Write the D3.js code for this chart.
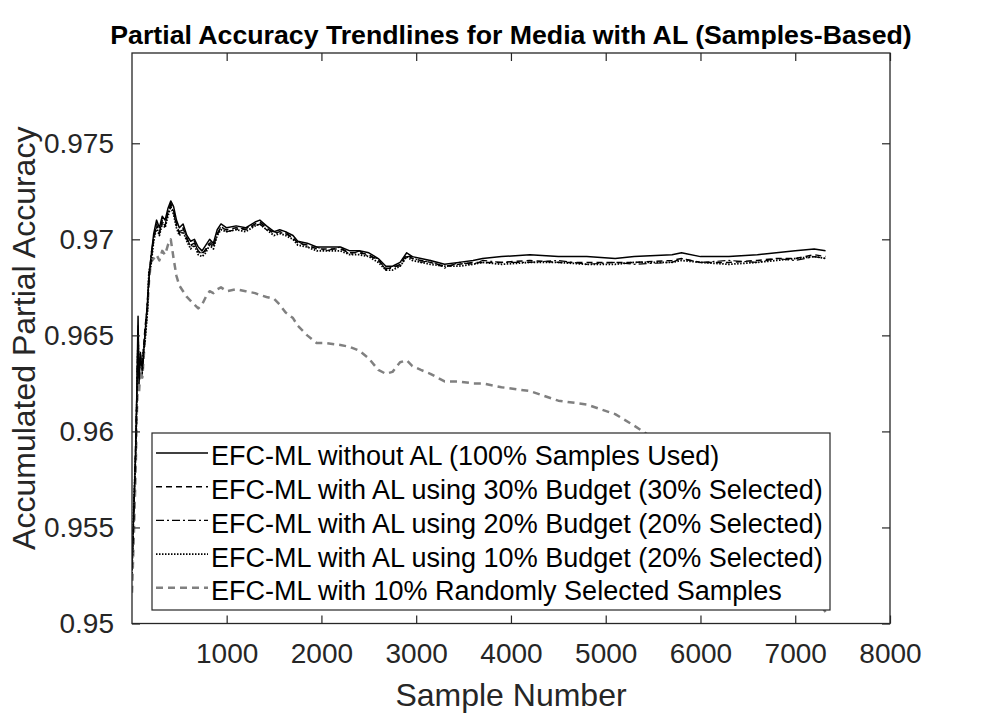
<!DOCTYPE html>
<html>
<head>
<meta charset="utf-8">
<title>Partial Accuracy Trendlines</title>
<script src="https://cdn.jsdelivr.net/npm/d3@7"></script>
<style>
    body { margin: 0; background: #fff; }
    svg { display: block; font-family: "Liberation Sans", Arial, Helvetica, sans-serif; }
</style>
</head>
<body>
<div id="chart"></div>
<script>
//************************************************************************************************************
// Data
//************************************************************************************************************
var samples = [
    1, 20, 40, 50, 65, 75, 90, 110, 140, 165,
    180, 200, 230, 260, 290, 320, 350, 380, 410, 440,
    470, 500, 540, 580, 620, 660, 700, 740, 780, 820,
    860, 900, 940, 1000, 1100, 1200, 1300, 1350, 1420, 1500,
    1560, 1620, 1700, 1750, 1850, 1950, 2050, 2200, 2300, 2400,
    2500, 2600, 2680, 2750, 2830, 2900, 2960, 3050, 3150, 3300,
    3450, 3600, 3700, 3900, 4200, 4500, 4800, 5100, 5300, 5700,
    5800, 6000, 6300, 6600, 6800, 7000, 7200, 7320
];

var noAL = [
    0.9528, 0.9560, 0.9590, 0.9615, 0.9660, 0.9625, 0.9640, 0.9632, 0.9652, 0.9668,
    0.9680, 0.9690, 0.9703, 0.9710, 0.9706, 0.9712, 0.9710, 0.9716, 0.9720, 0.9717,
    0.9710, 0.9706, 0.9708, 0.9702, 0.9699, 0.9700, 0.9696, 0.9694, 0.9697, 0.9700,
    0.9698, 0.9705, 0.9708, 0.9706, 0.9707, 0.9706, 0.9709, 0.9710, 0.9707, 0.9704,
    0.9705, 0.9704, 0.9702, 0.9699, 0.9698, 0.9696, 0.9696, 0.9696, 0.9694, 0.9694,
    0.9693, 0.9690, 0.9686, 0.9686, 0.9688, 0.9693, 0.9691, 0.9690, 0.9689, 0.9687,
    0.9688, 0.9689, 0.9690, 0.9691, 0.9692, 0.9691, 0.9691, 0.9690, 0.9691, 0.9692,
    0.9693, 0.9691, 0.9691, 0.9692, 0.9693, 0.9694, 0.9695, 0.9694
];

var al30 = [
    0.9532, 0.9555, 0.9595, 0.9612, 0.9652, 0.9630, 0.9637, 0.9635, 0.9655, 0.9665,
    0.9682, 0.9688, 0.9700, 0.9708, 0.9703, 0.9710, 0.9707, 0.9714, 0.9718, 0.9715,
    0.9708, 0.9703, 0.9706, 0.9700, 0.9697, 0.9698, 0.9694, 0.9692, 0.9695, 0.9698,
    0.9696, 0.9703, 0.9706, 0.9705, 0.9706, 0.9705, 0.9708, 0.9709, 0.9706, 0.9703,
    0.9704, 0.9703, 0.9701, 0.9698, 0.9697, 0.9695, 0.9695, 0.9695, 0.9693, 0.9693,
    0.9692, 0.9689, 0.9685, 0.9685, 0.9687, 0.9692, 0.9690, 0.9689, 0.9688, 0.9686,
    0.9687, 0.9688, 0.9688, 0.9688, 0.9689, 0.9688, 0.9688, 0.9688, 0.9688, 0.9689,
    0.9690, 0.9688, 0.9688, 0.9689, 0.9690, 0.9690, 0.9692, 0.9691
];

var al20 = [
    0.9530, 0.9558, 0.9592, 0.9618, 0.9655, 0.9628, 0.9642, 0.9630, 0.9650, 0.9670,
    0.9678, 0.9692, 0.9701, 0.9707, 0.9704, 0.9709, 0.9708, 0.9713, 0.9719, 0.9714,
    0.9707, 0.9704, 0.9705, 0.9701, 0.9696, 0.9699, 0.9693, 0.9693, 0.9694, 0.9699,
    0.9697, 0.9702, 0.9707, 0.9704, 0.9705, 0.9706, 0.9707, 0.9708, 0.9705, 0.9704,
    0.9703, 0.9704, 0.9700, 0.9699, 0.9696, 0.9696, 0.9694, 0.9696, 0.9692, 0.9694,
    0.9691, 0.9690, 0.9684, 0.9686, 0.9686, 0.9691, 0.9691, 0.9688, 0.9689, 0.9685,
    0.9688, 0.9687, 0.9689, 0.9688, 0.9688, 0.9689, 0.9687, 0.9688, 0.9687, 0.9688,
    0.9690, 0.9688, 0.9689, 0.9688, 0.9690, 0.9689, 0.9691, 0.9690
];

var al10 = [
    0.9526, 0.9562, 0.9588, 0.9610, 0.9648, 0.9632, 0.9635, 0.9638, 0.9648, 0.9663,
    0.9684, 0.9686, 0.9699, 0.9706, 0.9702, 0.9708, 0.9706, 0.9712, 0.9717, 0.9713,
    0.9706, 0.9702, 0.9704, 0.9699, 0.9695, 0.9697, 0.9692, 0.9691, 0.9693, 0.9697,
    0.9695, 0.9702, 0.9705, 0.9704, 0.9705, 0.9704, 0.9707, 0.9708, 0.9705, 0.9702,
    0.9703, 0.9702, 0.9700, 0.9697, 0.9696, 0.9694, 0.9694, 0.9694, 0.9692, 0.9692,
    0.9691, 0.9688, 0.9684, 0.9684, 0.9686, 0.9691, 0.9689, 0.9688, 0.9687, 0.9686,
    0.9686, 0.9687, 0.9688, 0.9687, 0.9688, 0.9688, 0.9687, 0.9687, 0.9688, 0.9688,
    0.9689, 0.9688, 0.9687, 0.9688, 0.9689, 0.9690, 0.9691, 0.9690
];

var random10 = [
    0.9516, 0.9545, 0.9580, 0.9605, 0.9630, 0.9620, 0.9632, 0.9628, 0.9650, 0.9665,
    0.9678, 0.9688, 0.9690, 0.9692, 0.9689, 0.9694, 0.9692, 0.9697, 0.9700, 0.9690,
    0.9681, 0.9676, 0.9673, 0.9670, 0.9668, 0.9666, 0.9664, 0.9666, 0.9670, 0.9673,
    0.9672, 0.9674, 0.9675, 0.9673, 0.9674, 0.9673, 0.9672, 0.9671, 0.9670, 0.9669,
    0.9666, 0.9662, 0.9659, 0.9655, 0.9650, 0.9646, 0.9646, 0.9645, 0.9644, 0.9642,
    0.9638, 0.9632, 0.9630, 0.9631, 0.9636, 0.9637, 0.9634, 0.9632, 0.9630, 0.9626,
    0.9626, 0.9625, 0.9625, 0.9623, 0.9621, 0.9616, 0.9614, 0.9609, 0.9603, 0.9590,
    0.9586, 0.9578, 0.9565, 0.9552, 0.9543, 0.9530, 0.9514, 0.9506
];

var seriesNames = [
    "EFC-ML without AL (100% Samples Used)",
    "EFC-ML with AL using 30% Budget (30% Selected)",
    "EFC-ML with AL using 20% Budget (20% Selected)",
    "EFC-ML with AL using 10% Budget (20% Selected)",
    "EFC-ML with 10% Randomly Selected Samples"
];

var xTicks = [1000, 2000, 3000, 4000, 5000, 6000, 7000, 8000];
var yTicks = [0.95, 0.955, 0.96, 0.965, 0.97, 0.975];

//************************************************************************************************************
// Setup
//************************************************************************************************************
var width = 984, height = 716;
var plot = { left: 132, right: 890, top: 53, bottom: 623.5 };
var axisColor = "#262626";

var svg = d3.select("#chart").append("svg")
    .attr("width", width)
    .attr("height", height);
svg.append("rect").attr("width", width).attr("height", height).attr("fill", "#fff");

var x = d3.scaleLinear().domain([1, 8000]).range([plot.left, plot.right]);
var y = d3.scaleLinear().domain([0.95, 0.9797]).range([plot.bottom, plot.top]);

// line styles per series (same order as seriesNames)
var styles = [
    { color: "#000", width: 1.5, dash: null },
    { color: "#000", width: 1.5, dash: "6,4" },
    { color: "#000", width: 1.2, dash: "8,3,2,3" },
    { color: "#000", width: 1.8, dash: "1.5,1.5" },
    { color: "#808080", width: 2.5, dash: "7,5" }
];
var seriesValues = [noAL, al30, al20, al10, random10];

//************************************************************************************************************
// Lines
//************************************************************************************************************
svg.append("clipPath").attr("id", "plot-clip")
    .append("rect")
    .attr("x", plot.left).attr("y", plot.top)
    .attr("width", plot.right - plot.left).attr("height", plot.bottom - plot.top);

var line = d3.line()
    .x(function(d) { return x(d[0]); })
    .y(function(d) { return y(d[1]); });

var gLines = svg.append("g").attr("clip-path", "url(#plot-clip)");
// draw gray (random) first so the AL lines sit on top
[4, 3, 2, 1, 0].forEach(function(i) {
    var pts = samples.map(function(s, j) { return [s, seriesValues[i][j]]; });
    gLines.append("path")
        .attr("d", line(pts))
        .attr("fill", "none")
        .attr("stroke", styles[i].color)
        .attr("stroke-width", styles[i].width)
        .attr("stroke-dasharray", styles[i].dash)
        .attr("stroke-linejoin", "round");
});

//************************************************************************************************************
// Axes (MATLAB style box, ticks pointing in)
//************************************************************************************************************
var tickLen = 8;
var xAxisB = d3.axisBottom(x).tickValues(xTicks).tickSizeInner(-tickLen).tickSizeOuter(0).tickPadding(20)
    .tickFormat(d3.format("d"));
var xAxisT = d3.axisTop(x).tickValues(xTicks).tickSizeInner(-tickLen).tickSizeOuter(0).tickFormat("");
var yAxisL = d3.axisLeft(y).tickValues(yTicks).tickSizeInner(-tickLen).tickSizeOuter(0).tickPadding(18)
    .tickFormat(function(d) { return String(+d.toFixed(3)); });
var yAxisR = d3.axisRight(y).tickValues(yTicks).tickSizeInner(-tickLen).tickSizeOuter(0).tickFormat("");

function styleAxis(g) {
    g.select(".domain").remove();
    g.selectAll("line").attr("stroke", axisColor).attr("stroke-width", 1.2);
    g.selectAll("text")
        .attr("fill", axisColor)
        .style("font-size", "28px")
        .style("font-family", "'Liberation Sans', Arial, Helvetica, sans-serif");
}

svg.append("g").attr("transform", "translate(0," + plot.bottom + ")").call(xAxisB).call(styleAxis);
svg.append("g").attr("transform", "translate(0," + plot.top + ")").call(xAxisT).call(styleAxis);
svg.append("g").attr("transform", "translate(" + plot.left + ",0)").call(yAxisL).call(styleAxis);
svg.append("g").attr("transform", "translate(" + plot.right + ",0)").call(yAxisR).call(styleAxis);

svg.append("rect")
    .attr("x", plot.left).attr("y", plot.top)
    .attr("width", plot.right - plot.left).attr("height", plot.bottom - plot.top)
    .attr("fill", "none")
    .attr("stroke", axisColor)
    .attr("stroke-width", 1.3);

//************************************************************************************************************
// Titles
//************************************************************************************************************
svg.append("text")
    .attr("x", (plot.left + plot.right) / 2)
    .attr("y", 44)
    .attr("text-anchor", "middle")
    .style("font-size", "26.7px")
    .style("font-weight", "bold")
    .attr("fill", "#000")
    .text("Partial Accuracy Trendlines for Media with AL (Samples-Based)");

svg.append("text")
    .attr("x", (plot.left + plot.right) / 2)
    .attr("y", 706)
    .attr("text-anchor", "middle")
    .style("font-size", "32px")
    .attr("fill", axisColor)
    .text("Sample Number");

svg.append("text")
    .attr("transform", "translate(35," + ((plot.top + plot.bottom) / 2) + ") rotate(-90)")
    .attr("text-anchor", "middle")
    .style("font-size", "32px")
    .attr("fill", axisColor)
    .text("Accumulated Partial Accuracy");

//************************************************************************************************************
// Legend
//************************************************************************************************************
var legend = { x: 152, y: 433, w: 678, h: 177, rowH: 33.7, first: 456 };
var gLegend = svg.append("g");
gLegend.append("rect")
    .attr("x", legend.x).attr("y", legend.y)
    .attr("width", legend.w).attr("height", legend.h)
    .attr("fill", "#fff")
    .attr("stroke", axisColor)
    .attr("stroke-width", 1.2);

seriesNames.forEach(function(name, i) {
    var cy = legend.first + i * legend.rowH;
    gLegend.append("line")
        .attr("x1", legend.x + 4).attr("x2", legend.x + 56)
        .attr("y1", cy - 3).attr("y2", cy - 3)
        .attr("stroke", styles[i].color)
        .attr("stroke-width", styles[i].width)
        .attr("stroke-dasharray", styles[i].dash);
    gLegend.append("text")
        .attr("x", legend.x + 59)
        .attr("y", cy)
        .attr("dy", "0.35em")
        .style("font-size", "27px")
        .attr("fill", "#000")
        .text(name);
});
</script>
</body>
</html>
